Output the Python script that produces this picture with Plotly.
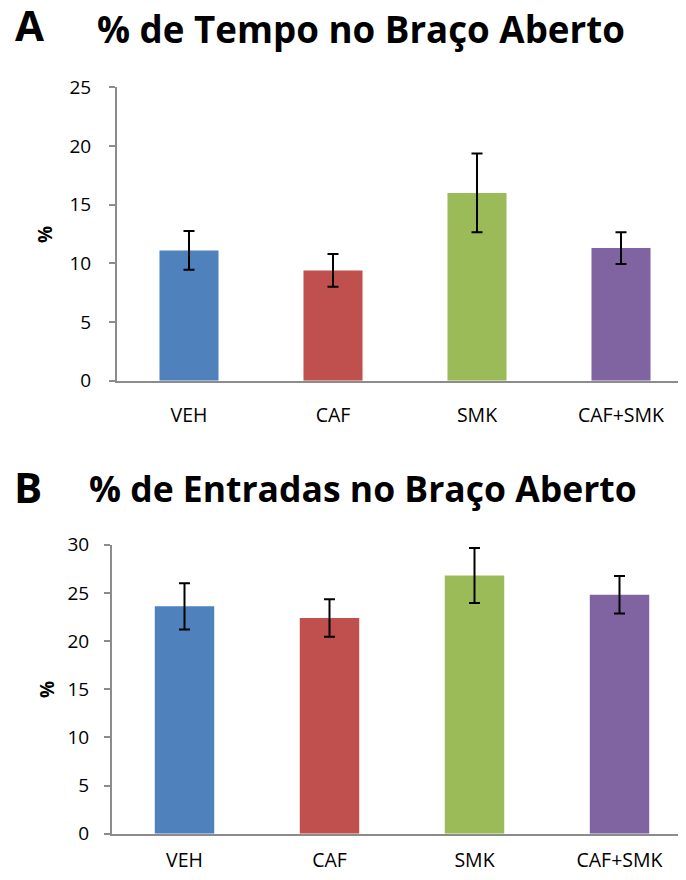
import plotly.graph_objects as go

categories = ["VEH", "CAF", "SMK", "CAF+SMK"]
colors = ["#4F81BD", "#C0504D", "#9BBB59", "#8064A2"]

tempo_values = [11.1, 9.4, 16.0, 11.3]
tempo_errors = [1.65, 1.4, 3.35, 1.35]
tempo_ticks = [0, 5, 10, 15, 20, 25]

entradas_values = [23.6, 22.4, 26.8, 24.8]
entradas_errors = [2.4, 1.95, 2.85, 1.95]
entradas_ticks = [0, 5, 10, 15, 20, 25, 30]

title_a = "% de Tempo no Braço Aberto"
title_b = "% de Entradas no Braço Aberto"

FONT = "Open Sans"
# page has an 8px body margin; the figure is placed at (8, 8)
OFF = 8
W, H = 686 - OFF, 880 - OFF

def px(x):
    return (x - OFF) / W

def py(y):
    return 1 - (y - OFF) / H

fig = go.Figure()

def add_panel(values, errors, xaxis, yaxis):
    fig.add_trace(go.Bar(
        x=categories, y=values,
        marker=dict(color=colors, line=dict(width=0)),
        width=0.41,
        error_y=dict(type="data", array=errors, visible=True,
                     color="black", thickness=2, width=5.5),
        xaxis=xaxis, yaxis=yaxis, showlegend=False,
    ))

add_panel(tempo_values, tempo_errors, "x", "y")
add_panel(entradas_values, entradas_errors, "x2", "y2")

axis_line = dict(showline=True, linecolor="#8C8C8C", linewidth=2,
                 showgrid=False, zeroline=False, automargin=False)
tickfont = dict(family=FONT, size=19, color="black")
xtickfont = dict(family=FONT, size=19.5, color="black")

fig.update_layout(
    template="none",
    width=W, height=H,
    margin=dict(l=0, r=0, t=0, b=0, pad=0),
    paper_bgcolor="white", plot_bgcolor="white",
    xaxis=dict(domain=[px(117), 1], anchor="y", range=[-0.5, -0.5 + (686 - 117) / 144],
               tickfont=xtickfont, ticks="", ticklabelstandoff=16, **axis_line),
    yaxis=dict(domain=[py(380.7), py(87.3)], anchor="x", range=[0, 25],
               tickvals=tempo_ticks, ticks="outside", ticklen=6, tickcolor="#8C8C8C",
               tickwidth=2, tickfont=tickfont, ticklabelstandoff=14, **axis_line),
    xaxis2=dict(domain=[px(112), 1], anchor="y2", range=[-0.5, -0.5 + (686 - 112) / 145],
                tickfont=xtickfont, ticks="", ticklabelstandoff=8, **axis_line),
    yaxis2=dict(domain=[py(833.7), py(544.7)], anchor="x2", range=[0, 30],
                tickvals=entradas_ticks, ticks="outside", ticklen=6, tickcolor="#8C8C8C",
                tickwidth=2, tickfont=tickfont, ticklabelstandoff=11, **axis_line),
)

def ann(text, x, y, size, angle=0, xanchor="left"):
    fig.add_annotation(text=text, x=px(x), y=py(y), xref="paper", yref="paper",
                       xanchor=xanchor, yanchor="middle", showarrow=False,
                       textangle=angle,
                       font=dict(family=FONT, size=size, color="black", weight="bold"))

ann("A", 29, 24, 42, xanchor="center")
ann("<b>" + title_a + "</b>", 95, 29, 36.7)
ann("B", 28, 486, 42, xanchor="center")
ann("<b>" + title_b + "</b>", 87, 488, 35.5)
ann("%", 45, 235, 19, angle=-90, xanchor="center")
ann("%", 47, 690, 19, angle=-90, xanchor="center")

fig.write_html("out.html")
